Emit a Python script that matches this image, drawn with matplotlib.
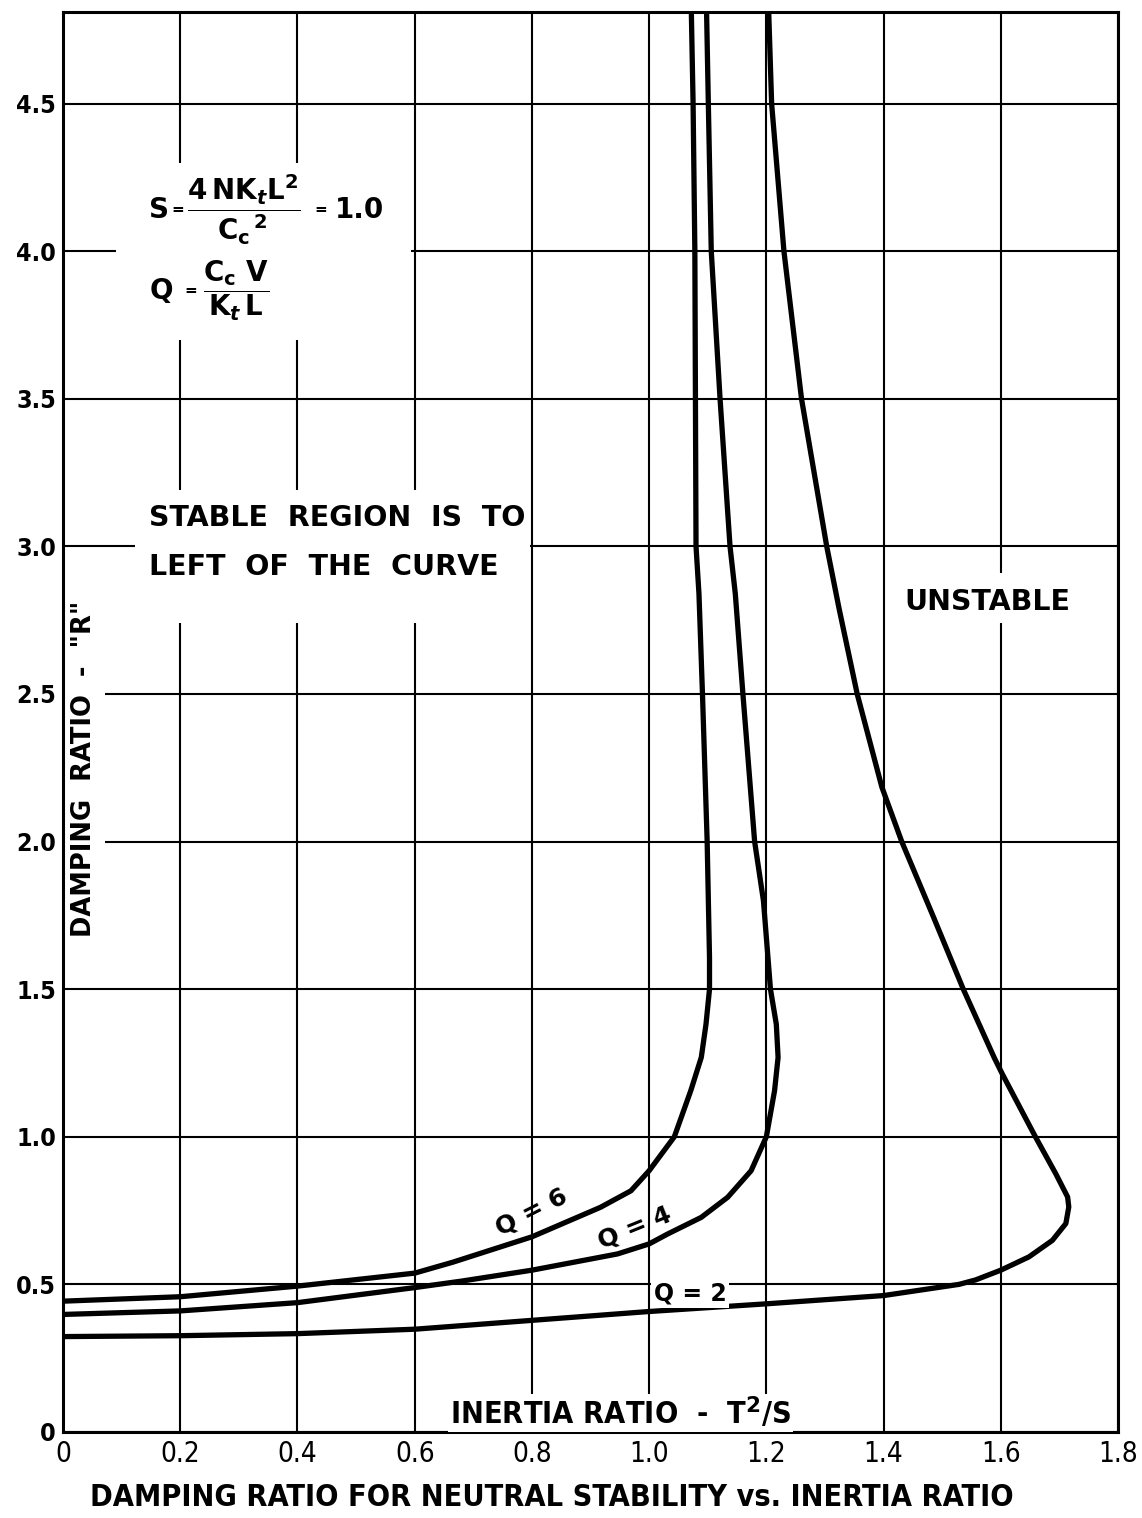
import matplotlib
matplotlib.use("Agg")
import matplotlib.pyplot as plt
from matplotlib.patches import Rectangle

plt.rcParams['font.family'] = ['DejaVu Sans']
plt.rcParams['mathtext.fontset'] = 'custom'
plt.rcParams['mathtext.rm'] = 'DejaVu Sans:bold'
plt.rcParams['mathtext.it'] = 'DejaVu Sans:bold:italic'
plt.rcParams['mathtext.bf'] = 'DejaVu Sans:bold'

# curves (x = inertia ratio, y = damping ratio R)
q6_x = [0, 0.2, 0.4, 0.6, 0.665, 0.8, 0.917, 0.969, 1.0, 1.043, 1.071, 1.089, 1.097, 1.103,
        1.103, 1.099, 1.091, 1.085, 1.080, 1.079, 1.078, 1.075, 1.072]
q6_y = [0.443, 0.458, 0.494, 0.538, 0.575, 0.661, 0.761, 0.817, 0.885, 1.0, 1.156, 1.269, 1.381, 1.5,
        1.607, 2.0, 2.5, 2.84, 3.0, 3.5, 4.0, 4.5, 4.81]

q4_x = [0, 0.2, 0.4, 0.6, 0.68, 0.8, 0.946, 1.0, 1.031, 1.089, 1.134, 1.174, 1.2, 1.214, 1.22,
        1.217, 1.207, 1.195, 1.180, 1.160, 1.147, 1.138, 1.121, 1.106, 1.101, 1.098]
q4_y = [0.398, 0.410, 0.438, 0.489, 0.511, 0.548, 0.603, 0.637, 0.670, 0.727, 0.795, 0.885, 1.0, 1.156, 1.269,
        1.381, 1.5, 1.80, 2.0, 2.5, 2.84, 3.0, 3.5, 4.0, 4.5, 4.81]

q2_x = [0, 0.2, 0.4, 0.6, 0.8, 1.0, 1.2, 1.4, 1.529, 1.557, 1.6, 1.648, 1.688, 1.711, 1.716,
        1.714, 1.694, 1.659, 1.603, 1.589, 1.536, 1.485, 1.431, 1.397, 1.355, 1.324, 1.303, 1.26,
        1.23, 1.209, 1.204]
q2_y = [0.323, 0.326, 0.333, 0.348, 0.378, 0.408, 0.434, 0.462, 0.5, 0.515, 0.548, 0.593, 0.649, 0.706, 0.762,
        0.796, 0.874, 1.0, 1.211, 1.267, 1.5, 1.745, 2.0, 2.185, 2.5, 2.79, 3.0, 3.5,
        4.0, 4.5, 4.81]

x_ticks = [0, 0.2, 0.4, 0.6, 0.8, 1.0, 1.2, 1.4, 1.6, 1.8]
x_labels = ['0', '0.2', '0.4', '0.6', '0.8', '1.0', '1.2', '1.4', '1.6', '1.8']
y_ticks = [0, 0.5, 1.0, 1.5, 2.0, 2.5, 3.0, 3.5, 4.0, 4.5]
y_labels = ['0', '0.5', '1.0', '1.5', '2.0', '2.5', '3.0', '3.5', '4.0', '4.5']

fig = plt.figure(figsize=(11.42, 15.18), dpi=100)
ax = fig.add_axes([0.0552, 0.0567, 0.9238, 0.9353])
ax.set_xlim(0, 1.8)
ax.set_ylim(0, 4.81)

ax.set_xticks(x_ticks)
ax.set_xticklabels(x_labels, fontsize=20, fontstretch='condensed')
ax.set_yticks(y_ticks)
ax.set_yticklabels(y_labels, fontsize=18, fontweight='bold', fontstretch='condensed')
ax.tick_params(axis='x', length=0, pad=6)
ax.tick_params(axis='y', length=0, pad=5)
ax.grid(True, color='black', linewidth=1.5, zorder=0)
ax.set_axisbelow(True)
for s in ax.spines.values():
    s.set_linewidth(2.2)

lw = 3.8
ax.plot(q6_x, q6_y, color='black', lw=lw, zorder=3, solid_joinstyle='round')
ax.plot(q4_x, q4_y, color='black', lw=lw, zorder=3, solid_joinstyle='round')
ax.plot(q2_x, q2_y, color='black', lw=lw, zorder=3, solid_joinstyle='round')

# white patches where the lettering breaks the grid
for (x0, y0, w, h) in [(0.09, 3.70, 0.503, 0.60), (0.123, 2.74, 0.674, 0.45),
                       (1.42, 2.74, 0.315, 0.17), (0.003, 1.70, 0.068, 1.15)]:
    ax.add_patch(Rectangle((x0, y0), w, h, facecolor='white', edgecolor='none', zorder=1))

# formula block
ax.text(0.147, 4.14, 'S', fontsize=20, fontweight='bold', va='center', ha='left', zorder=2)
ax.text(0.196, 4.14, '=', fontsize=11, fontweight='bold', va='center', ha='center', zorder=2)
ax.text(0.211, 4.14, r'$\dfrac{\mathrm{4\,NK}_{t}\mathrm{L}^{2}}{\mathrm{C_c}^{\,2}}$',
        fontsize=20, va='center', ha='left', zorder=2)
ax.text(0.440, 4.14, '=', fontsize=11, fontweight='bold', va='center', ha='center', zorder=2)
ax.text(0.464, 4.14, '1.0', fontsize=20, fontweight='bold', va='center', ha='left', zorder=2)

ax.text(0.147, 3.866, 'Q', fontsize=20, fontweight='bold', va='center', ha='left', zorder=2)
ax.text(0.218, 3.866, '=', fontsize=11, fontweight='bold', va='center', ha='center', zorder=2)
ax.text(0.296, 3.866, r'$\dfrac{\mathrm{C_c\ V}}{\mathrm{K}_{t}\,\mathrm{L}}$',
        fontsize=20, va='center', ha='center', zorder=2)

ax.text(0.147, 3.096, 'STABLE  REGION  IS  TO', fontsize=20.5, fontweight='bold',
        va='center', ha='left', zorder=2)
ax.text(0.147, 2.93, 'LEFT  OF  THE  CURVE', fontsize=20.5, fontweight='bold',
        va='center', ha='left', zorder=2)
ax.text(1.577, 2.81, 'UNSTABLE', fontsize=20.5, fontweight='bold', va='center', ha='center', zorder=2)

ax.text(0.036, 2.245, 'DAMPING  RATIO  -  "R"', fontsize=18.5, fontweight='bold', rotation=90,
        va='center', ha='center', zorder=2)

ax.text(0.80, 0.745, 'Q = 6', fontsize=18, fontweight='bold', rotation=27,
        va='center', ha='center', zorder=4)
ax.text(0.975, 0.69, 'Q = 4', fontsize=18, fontweight='bold', rotation=22,
        va='center', ha='center', zorder=4)
ax.text(1.07, 0.47, 'Q = 2', fontsize=17, fontweight='bold', va='center', ha='center', zorder=4,
        bbox=dict(facecolor='white', edgecolor='none', pad=2))

ax.text(0.951, 0.064, r'INERTIA RATIO  -  T$^{2}$/S', fontsize=22, fontweight='bold',
        fontstretch='condensed', va='center', ha='center', zorder=4,
        bbox=dict(facecolor='white', edgecolor='none', pad=1))

fig.text(0.483, 0.0138, 'DAMPING RATIO FOR NEUTRAL STABILITY vs. INERTIA RATIO',
         fontsize=22, fontweight='bold', fontstretch='condensed', va='center', ha='center')

fig.savefig('out.png', dpi=100)
